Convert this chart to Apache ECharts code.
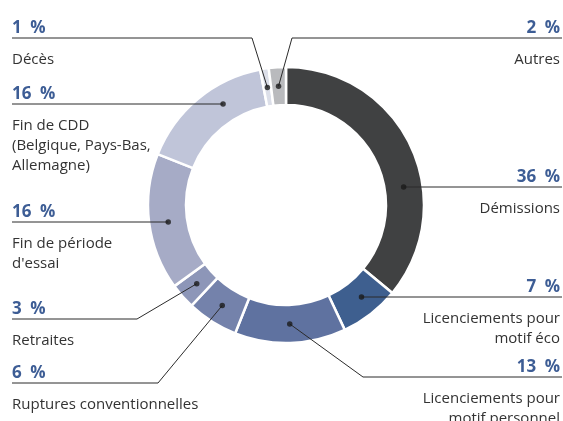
<!DOCTYPE html>
<html>
<head>
<meta charset="utf-8">
<script src="https://cdn.jsdelivr.net/npm/echarts@6/dist/echarts.min.js"></script>
<style>
	html, body { margin: 0; padding: 0; background: #fff; }
	#main { width: 563px; height: 421px; }
</style>
</head>
<body>
<div id="main"></div>
<script>
	// motifs de départ (sens horaire depuis midi)
	var categories = [
		'Démissions',
		'Licenciements pour\nmotif éco',
		'Licenciements pour\nmotif personnel',
		'Ruptures conventionnelles',
		'Retraites',
		'Fin de période\nd\'essai',
		'Fin de CDD\n(Belgique, Pays-Bas,\nAllemagne)',
		'Décès',
		'Autres'
	];
	// pourcentages
	var values = [36, 7, 13, 6, 3, 16, 16, 1, 2];
	var colors = ['#404142', '#3e5f8f', '#5f72a0', '#7482ab', '#8d96b8', '#a6abc6', '#c0c5d9', '#dcdfe9', '#b9babd'];

	// mise en page des étiquettes
	var side = ['right', 'right', 'right', 'left', 'left', 'left', 'left', 'left', 'right'];
	var lineY = [187, 297, 377, 383, 319, 222, 104, 38, 38];
	var bendX = [null, null, 363, 158, 137, null, null, 252, 292];

	var CX = 286, CY = 205;
	var R_IN = 100, R_OUT = 138, R_DOT = 119;
	var LEFT_X = 12, RIGHT_X = 560;

	// angle (en %) du point d'attache de chaque trait
	var dotAngle = [];
	var acc = 0;
	for (var i = 0; i < values.length; i++) {
		var start = acc, end = acc + values[i];
		var ang = (start + end) / 2;
		var dy = lineY[i] - CY;
		if (Math.abs(dy) < R_DOT) {
			var dx = Math.sqrt(R_DOT * R_DOT - dy * dy) * (side[i] === 'right' ? 1 : -1);
			var deg = Math.atan2(dx, -dy) * 180 / Math.PI;
			if (deg < 0) deg += 360;
			var pct = deg / 3.6;
			if (pct >= start && pct <= end) ang = pct;
		}
		dotAngle.push(ang);
		acc = end;
	}

	function dotPixel(i) {
		var t = dotAngle[i] * 3.6 * Math.PI / 180;
		return [CX + R_DOT * Math.sin(t), CY - R_DOT * Math.cos(t)];
	}

	var pieData = values.map(function(v, i) {
		return { name: categories[i], value: v, itemStyle: { color: colors[i] } };
	});
	// même découpage, transparent, juste pour porter les étiquettes au-dessus de l'anneau
	var labelData = values.map(function(v, i) {
		return { name: categories[i], value: v };
	});
	var dotData = dotAngle.map(function(a) { return [R_DOT, a]; });

	var myChart = echarts.init(document.getElementById('main'));
	myChart.setOption({
		animation: false,
		backgroundColor: '#fff',
		polar: { center: [CX, CY], radius: R_OUT },
		angleAxis: {
			type: 'value', min: 0, max: 100, startAngle: 90, clockwise: true,
			axisLine: { show: false }, axisTick: { show: false }, axisLabel: { show: false }, splitLine: { show: false }
		},
		radiusAxis: {
			type: 'value', min: 0, max: R_OUT,
			axisLine: { show: false }, axisTick: { show: false }, axisLabel: { show: false }, splitLine: { show: false }
		},
		series: [{
			type: 'pie',
			z: 2,
			center: [CX, CY],
			radius: [R_IN, R_OUT],
			startAngle: 90,
			clockwise: true,
			silent: true,
			emphasis: { disabled: true },
			itemStyle: { borderColor: '#fff', borderWidth: 2.5 },
			label: { show: false },
			labelLine: { show: false },
			data: pieData
		}, {
			type: 'pie',
			z: 4,
			center: [CX, CY],
			radius: [R_IN, R_OUT],
			startAngle: 90,
			clockwise: true,
			silent: true,
			avoidLabelOverlap: false,
			emphasis: { disabled: true },
			itemStyle: { color: 'rgba(0,0,0,0)', borderWidth: 0 },
			label: {
				show: true,
				position: 'outside',
				fontFamily: 'Open Sans',
				formatter: function(p) {
					var lines = p.name.split('\n').map(function(l) { return '{n|' + l + '}'; });
					return '{p|' + p.value + '\u2002%}\n{s| }\n' + lines.join('\n');
				},
				rich: {
					p: { fontFamily: 'Open Sans', fontSize: 17, fontWeight: 'bold', color: '#3d5d95', lineHeight: 22 },
					s: { fontSize: 2, lineHeight: 10.5 },
					n: { fontFamily: 'Open Sans', fontSize: 15, color: '#333', lineHeight: 20 }
				}
			},
			labelLine: { show: true, showAbove: true, lineStyle: { color: '#2b2b2b', width: 1 } },
			labelLayout: function(params) {
				var i = params.dataIndex;
				var d = dotPixel(i);
				var right = side[i] === 'right';
				var bx = bendX[i] == null ? d[0] : bendX[i];
				return {
					x: right ? RIGHT_X : LEFT_X,
					y: lineY[i] - 20.5,
					align: right ? 'right' : 'left',
					verticalAlign: 'top',
					labelLinePoints: [d, [bx, lineY[i]], [right ? 562 : LEFT_X, lineY[i]]]
				};
			},
			data: labelData
		}, {
			type: 'scatter',
			coordinateSystem: 'polar',
			symbolSize: 5.5,
			itemStyle: { color: '#1a1a1a' },
			z: 5,
			silent: true,
			data: dotData
		}]
	});
</script>
</body>
</html>
